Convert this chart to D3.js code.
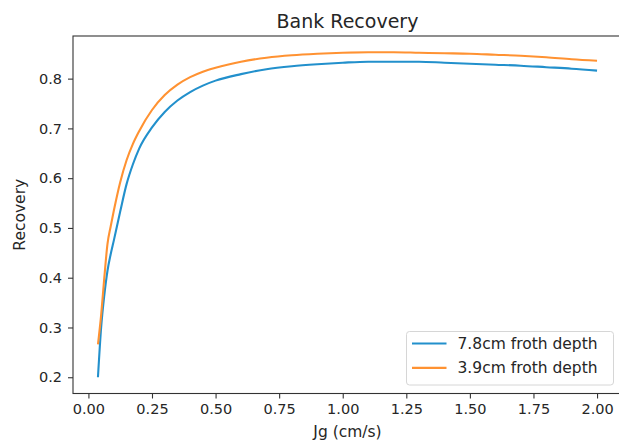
<!DOCTYPE html>
<html>
<head>
<meta charset="utf-8">
<script src="https://cdn.jsdelivr.net/npm/d3@7"></script>
<style>
  html, body { margin: 0; padding: 0; background: #fff; }
  svg { display: block; font-family: "DejaVu Sans", sans-serif; }
</style>
</head>
<body>
<svg id="chart" width="619" height="448"></svg>
<script>
// Superficial gas velocity Jg (cm/s)
const jg = [0.0375, 0.05, 0.0625, 0.075, 0.0875, 0.1, 0.125, 0.15, 0.175, 0.2,
            0.25, 0.3, 0.35, 0.4, 0.45, 0.5, 0.6, 0.7, 0.8, 0.9, 1.0,
            1.1, 1.2, 1.3, 1.4, 1.5, 1.6, 1.7, 1.8, 1.9, 2.0];

// Bank recovery for each froth depth
const recovery78 = [0.200, 0.300, 0.365, 0.414, 0.447, 0.475, 0.533, 0.588, 0.628, 0.660,
                    0.702, 0.733, 0.756, 0.773, 0.786, 0.796, 0.809, 0.819, 0.825, 0.829, 0.832,
                    0.834, 0.834, 0.834, 0.832, 0.830, 0.828, 0.826, 0.823, 0.820, 0.816];
const recovery39 = [0.266, 0.325, 0.400, 0.468, 0.503, 0.535, 0.592, 0.636, 0.669, 0.695,
                    0.737, 0.767, 0.788, 0.803, 0.814, 0.822, 0.834, 0.842, 0.847, 0.850, 0.852,
                    0.853, 0.853, 0.852, 0.851, 0.850, 0.848, 0.846, 0.843, 0.839, 0.836];

const seriesNames = ["7.8cm froth depth", "3.9cm froth depth"];
const seriesColors = ["#2290cc", "#ff9232"];

const xTicks = [0.00, 0.25, 0.50, 0.75, 1.00, 1.25, 1.50, 1.75, 2.00];
const yTicks = [0.2, 0.3, 0.4, 0.5, 0.6, 0.7, 0.8];

const series = [recovery78, recovery39].map((vals, i) => ({
  name: seriesNames[i],
  color: seriesColors[i],
  points: jg.map((x, j) => ({ x, y: vals[j] }))
}));

const svg = d3.select("#chart");
const plot = { left: 73, top: 36, right: 622, bottom: 393.5 };
const textColor = "#262626";

// Axis limits with a 5% margin around the data, as in the plotting defaults
function padded(values) {
  const [lo, hi] = d3.extent(values);
  const m = (hi - lo) * 0.05;
  return [lo - m, hi + m];
}
const x = d3.scaleLinear().domain(padded(jg)).range([plot.left, plot.right]);
const y = d3.scaleLinear()
  .domain(padded(recovery78.concat(recovery39)))
  .range([plot.bottom, plot.top]);

// Lines
const line = d3.line().x(d => x(d.x)).y(d => y(d.y)).curve(d3.curveMonotoneX);
const lines = svg.append("g");
series.forEach(s => {
  lines.append("path")
    .datum(s.points)
    .attr("fill", "none")
    .attr("stroke", s.color)
    .attr("stroke-width", 2.1)
    .attr("stroke-linejoin", "round")
    .attr("stroke-linecap", "butt")
    .attr("d", line);
});

// Axes
const xAxis = d3.axisBottom(x).tickValues(xTicks).tickFormat(d3.format(".2f"))
  .tickSize(5).tickPadding(5).tickSizeOuter(0);
const yAxis = d3.axisLeft(y).tickValues(yTicks).tickFormat(d3.format(".1f"))
  .tickSize(5).tickPadding(6).tickSizeOuter(0);

const gx = svg.append("g").attr("transform", `translate(0,${plot.bottom})`).call(xAxis);
const gy = svg.append("g").attr("transform", `translate(${plot.left},0)`).call(yAxis);
[gx, gy].forEach(g => {
  g.select(".domain").remove();
  g.selectAll(".tick line").attr("stroke", "#333").attr("stroke-width", 1.1);
  g.selectAll(".tick text").attr("fill", textColor)
    .style("font-size", "14.5px").style("font-family", "DejaVu Sans");
});

// Spines
const spines = svg.append("g").attr("fill", "none").attr("stroke", "#333").attr("stroke-width", 1.1);
spines.append("rect")
  .attr("x", plot.left).attr("y", plot.top)
  .attr("width", plot.right - plot.left).attr("height", plot.bottom - plot.top);

// Title and axis labels
svg.append("text")
  .attr("x", (plot.left + plot.right) / 2).attr("y", 28)
  .attr("text-anchor", "middle").attr("fill", textColor)
  .style("font-size", "19px")
  .text("Bank Recovery");

svg.append("text")
  .attr("x", (plot.left + plot.right) / 2).attr("y", 437)
  .attr("text-anchor", "middle").attr("fill", textColor)
  .style("font-size", "15.5px")
  .text("Jg (cm/s)");

svg.append("text")
  .attr("transform", `translate(25,${(plot.top + plot.bottom) / 2}) rotate(-90)`)
  .attr("text-anchor", "middle").attr("fill", textColor)
  .style("font-size", "15.5px")
  .text("Recovery");

// Legend
const legend = svg.append("g").attr("transform", "translate(406.5,331.5)");
legend.append("rect")
  .attr("width", 207).attr("height", 53.5)
  .attr("rx", 3).attr("ry", 3)
  .attr("fill", "#fff").attr("fill-opacity", 0.8)
  .attr("stroke", "#d6d6d6").attr("stroke-width", 1);
series.forEach((s, i) => {
  const row = legend.append("g").attr("transform", `translate(0,${12 + i * 24.4})`);
  row.append("line")
    .attr("x1", 5.5).attr("x2", 40)
    .attr("stroke", s.color).attr("stroke-width", 2.1);
  row.append("text")
    .attr("x", 51).attr("y", 0).attr("dy", "0.36em")
    .attr("fill", textColor)
    .style("font-size", "15.5px")
    .text(s.name);
});
</script>
</body>
</html>
